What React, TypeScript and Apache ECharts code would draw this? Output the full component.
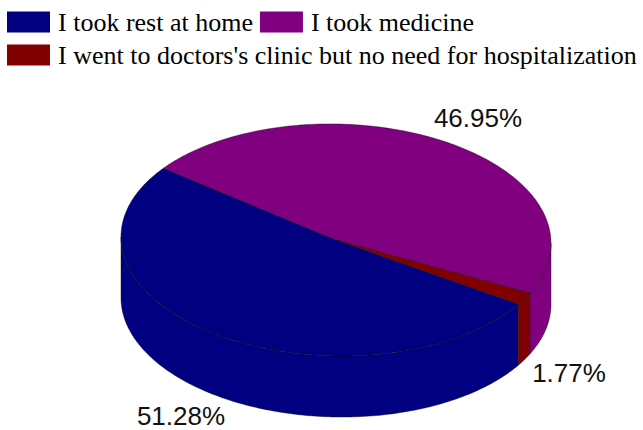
import React, { useEffect, useRef } from "react";
import * as echarts from "echarts";

const sliceNames = [
  "I took rest at home",
  "I took medicine",
  "I went to doctors's clinic but no need for hospitalization",
];
const sliceValues = [51.28, 46.95, 1.77];
const sliceColors = ["#000080", "#800080", "#800000"];

const CX = 336;
const CY = 240;
const RX = 215;
const RY = 116;
const DEPTH = 61;
const TILT = 0.015; // the disc sits slightly lower on its right side
const FIRST_ANGLE = -32; // degrees, counter-clockwise from east; slices run clockwise
const EDGE = "rgba(0,0,0,0.55)";
const LABEL_POS = [
  { x: 181, y: 416 },
  { x: 478, y: 118 },
  { x: 569, y: 373 },
];

const total = sliceValues.reduce((a, b) => a + b, 0);

function pt(deg: number, dy = 0): number[] {
  const r = (deg * Math.PI) / 180;
  const dx = RX * Math.cos(r);
  return [CX + dx, CY - RY * Math.sin(r) + TILT * dx + dy];
}

function arc(from: number, to: number, dy = 0): number[][] {
  const out: number[][] = [];
  const n = Math.max(2, Math.ceil(Math.abs(to - from)));
  for (let i = 0; i <= n; i++) out.push(pt(from + ((to - from) * i) / n, dy));
  return out;
}

function makeRenderItem(index: number) {
  return (_params: any, api: any) => {
    const before = sliceValues.slice(0, index).reduce((a, b) => a + b, 0);
    const start = FIRST_ANGLE - (before / total) * 360;
    const end = start - (api.value(0) / total) * 360;
    const color = sliceColors[index];
    const children: any[] = [];
    // Front wall: portions of the slice whose angle lies in the lower half of the ellipse.
    for (let k = 0; k >= -1; k--) {
      const hi = Math.min(start, 0 + k * 360);
      const lo = Math.max(end, -180 + k * 360);
      if (hi > lo) {
        children.push({
          type: "polygon",
          shape: { points: [...arc(hi, lo), ...arc(lo, hi, DEPTH)] },
          style: { fill: color, stroke: EDGE, lineWidth: 0.7 },
        });
      }
    }
    children.push({
      type: "polygon",
      shape: { points: [[CX, CY], ...arc(start, end)] },
      style: { fill: color, stroke: EDGE, lineWidth: 0.7 },
    });
    return { type: "group", children };
  };
}

export default function App() {
  const ref = useRef<HTMLDivElement>(null);
  useEffect(() => {
    const chart = echarts.init(ref.current!, undefined, { renderer: "svg" });
    chart.setOption({
      animation: false,
      backgroundColor: "#ffffff",
      legend: {
        left: 7,
        top: 9,
        width: 636,
        padding: 0,
        itemGap: 7,
        itemWidth: 43,
        itemHeight: 21,
        icon: "rect",
        data: sliceNames,
        textStyle: {
          fontFamily: "Liberation Serif",
          fontSize: 26,
          color: "#000",
          lineHeight: 24,
          padding: [0, 0, 0, 3],
        },
      },
      series: sliceNames.map((name, i) => ({
        type: "custom",
        name,
        coordinateSystem: "none",
        silent: true,
        itemStyle: { color: sliceColors[i] },
        data: [[sliceValues[i]]],
        renderItem: makeRenderItem(i),
      })),
      graphic: sliceValues.map((v, i) => ({
        type: "text",
        x: LABEL_POS[i].x,
        y: LABEL_POS[i].y,
        silent: true,
        style: {
          text: `${v.toFixed(2)}%`,
          fontFamily: "Liberation Sans",
          fontSize: 26,
          lineHeight: 22,
          fill: "#111",
          textAlign: "center",
          textVerticalAlign: "middle",
        },
      })),
    });
    return () => chart.dispose();
  }, []);
  return (
    <div
      ref={ref}
      style={{ position: "fixed", left: 0, top: 0, width: 643, height: 430 }}
    />
  );
}
